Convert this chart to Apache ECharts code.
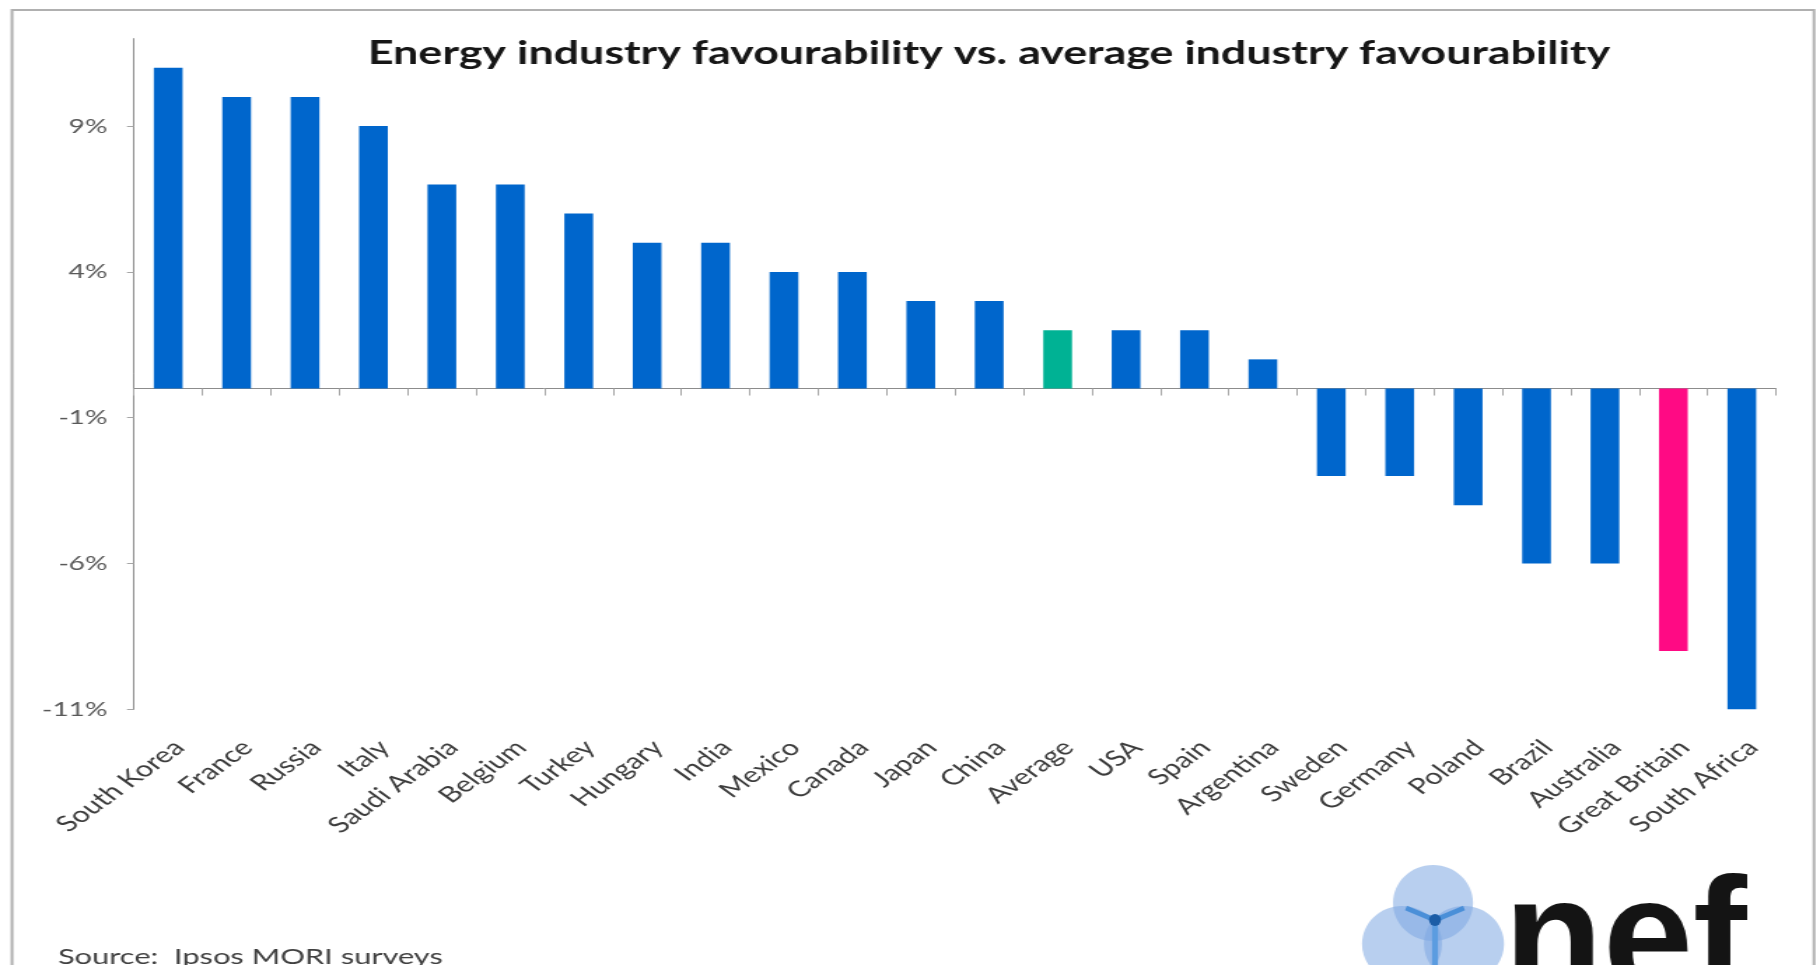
<!DOCTYPE html>
<html>
<head>
<meta charset="utf-8">
<title>Energy industry favourability vs. average industry favourability</title>
<script src="https://cdn.jsdelivr.net/npm/echarts@6/dist/echarts.min.js"></script>
<style>
  html, body { margin: 0; padding: 0; background: #ffffff; }
  #frame { width: 1820px; height: 965px; overflow: hidden; position: relative; background: #ffffff; }
  #chart { width: 1300px; height: 965px; transform-origin: 0 0; }
</style>
</head>
<body>
<div id="frame"><div id="chart"></div></div>
<script>
// Countries, ordered from most to least favourable
const categories = [
  'South Korea', 'France', 'Russia', 'Italy', 'Saudi Arabia', 'Belgium',
  'Turkey', 'Hungary', 'India', 'Mexico', 'Canada', 'Japan', 'China',
  'Average', 'USA', 'Spain', 'Argentina', 'Sweden', 'Germany', 'Poland',
  'Brazil', 'Australia', 'Great Britain', 'South Africa'
];

// Energy favourability minus average industry favourability, in percentage points
const favourability = [
  11, 10, 10, 9, 7, 7,
  6, 5, 5, 4, 4, 3, 3,
  2, 2, 2, 1, -3, -3, -4,
  -6, -6, -9, -11
];

// Value-axis tick labels
const yTicks = [-11, -6, -1, 4, 9];

const titleText = 'Energy industry favourability vs. average industry favourability';
const sourceText = 'Source:  Ipsos MORI surveys';
const logoText = 'nef';

// The chart is laid out in a narrower box and widened horizontally,
// which gives the wide lettering and shallow label slant of the original.
const CHART_W = 1300;
const STRETCH = 1820 / CHART_W;
const chartEl = document.getElementById('chart');
chartEl.style.transform = 'scaleX(' + STRETCH + ')';
const sx = v => v / STRETCH;          // page x -> chart x

const BLUE = '#0066CC';
const GREEN = '#00B294';
const PINK = '#FF0a84';
const barColor = name => name === 'Average' ? GREEN : (name === 'Great Britain' ? PINK : BLUE);

const barData = categories.map((name, i) => ({
  value: favourability[i],
  itemStyle: { color: barColor(name) }
}));

const AXIS_GREY = '#8c8c8c';
const TICK_GREY = '#a6a6a6';

const chart = echarts.init(chartEl, null, { renderer: 'canvas' });

chart.setOption({
  animation: false,
  backgroundColor: '#ffffff',
  grid: {
    left: sx(134),
    right: CHART_W - sx(1776),
    top: 38.6,
    bottom: 965 - 709.3,
    containLabel: false,
    outerBoundsMode: 'none'
  },
  xAxis: [
    {
      // zero line with ticks between the countries
      type: 'category',
      data: categories,
      position: 'bottom',
      axisLine: { show: true, onZero: true, lineStyle: { color: AXIS_GREY, width: 1 } },
      axisTick: { show: true, interval: 0, length: 7, lineStyle: { color: TICK_GREY, width: 1 } },
      axisLabel: { show: false },
      splitLine: { show: false }
    },
    {
      // country names along the foot of the plot
      type: 'category',
      data: categories,
      position: 'bottom',
      axisLine: { show: false, onZero: false },
      axisTick: { show: false },
      splitLine: { show: false },
      axisLabel: {
        interval: 0,
        rotate: 45,
        margin: 27,
        align: 'right',
        verticalAlign: 'top',
        fontFamily: 'Lato',
        fontSize: 22,
        color: '#3c3c3c'
      }
    }
  ],
  yAxis: {
    type: 'value',
    min: -11,
    max: 12,
    interval: 5,
    axisLine: { show: true, lineStyle: { color: AXIS_GREY, width: 1 } },
    axisTick: { show: true, length: 5, customValues: yTicks, lineStyle: { color: TICK_GREY } },
    axisLabel: {
      customValues: yTicks,
      formatter: v => v + '%',
      margin: 19,
      fontFamily: 'Lato',
      fontSize: 20,
      color: '#595959'
    },
    splitLine: { show: false }
  },
  series: [
    {
      type: 'bar',
      xAxisIndex: 0,
      yAxisIndex: 0,
      barWidth: '42%',
      data: barData
    }
  ],
  graphic: [
    {
      // chart frame
      type: 'rect',
      z: -10,
      shape: { x: sx(12), y: 10, width: sx(1814 - 12), height: 1000 },
      style: { fill: 'none', stroke: '#b0b0b0', lineWidth: 2 }
    },
    {
      type: 'text',
      x: sx(989),
      y: 54,
      style: {
        text: titleText,
        font: 'bold 32px Lato',
        fill: '#161616',
        align: 'center',
        verticalAlign: 'middle'
      }
    },
    {
      type: 'text',
      x: sx(58),
      y: 957,
      style: {
        text: sourceText,
        font: '22px Lato',
        fill: '#404040',
        align: 'left',
        verticalAlign: 'middle'
      }
    },
    {
      // nef logo, drawn at its own proportions
      type: 'group',
      x: sx(1340),
      y: 840,
      scaleX: 1 / STRETCH,
      children: [
        { type: 'ellipse', shape: { cx: 93, cy: 63, rx: 40, ry: 38 }, style: { fill: 'rgba(125,168,225,0.55)' } },
        { type: 'ellipse', shape: { cx: 62, cy: 104, rx: 40, ry: 38 }, style: { fill: 'rgba(125,168,225,0.55)' } },
        { type: 'ellipse', shape: { cx: 124, cy: 104, rx: 40, ry: 38 }, style: { fill: 'rgba(125,168,225,0.55)' } },
        { type: 'polyline', shape: { points: [[66, 68], [95, 80], [124, 68]] }, style: { stroke: '#4a8fd8', lineWidth: 5, fill: 'none' } },
        { type: 'line', shape: { x1: 95, y1: 80, x2: 95, y2: 135 }, style: { stroke: '#5b9ce0', lineWidth: 6 } },
        { type: 'circle', shape: { cx: 95, cy: 80, r: 6 }, style: { fill: '#1c5da6' } },
        {
          type: 'text',
          x: 164,
          y: 105,
          style: {
            text: logoText,
            font: 'bold 162px "Liberation Sans"',
            fill: '#141414',
            align: 'left',
            verticalAlign: 'middle'
          }
        }
      ]
    }
  ]
});
</script>
</body>
</html>
